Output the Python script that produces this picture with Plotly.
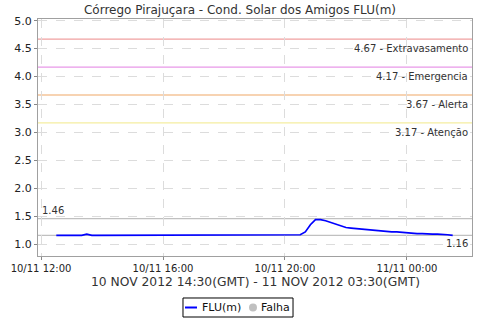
import pandas as pd
import plotly.graph_objects as go

# ---- data ----
start_time = "2012-11-10 12:30"
step = "10min"
flu_values = (
    [1.16] * 6 + [1.18] + [1.16] + [1.16] * 31 + [1.17] * 5 + [1.16] + [1.17] * 4 +
    [1.22, 1.35, 1.44, 1.44, 1.42, 1.39, 1.35, 1.32, 1.30, 1.29,
     1.28, 1.27, 1.26, 1.26, 1.25, 1.24, 1.23, 1.22, 1.22, 1.21,
     1.21, 1.20, 1.19, 1.19, 1.18, 1.18, 1.18, 1.18, 1.17, 1.16]
)
times = pd.date_range(start_time, periods=len(flu_values), freq=step)

threshold_values = [4.67, 4.17, 3.67, 3.17]
threshold_names = ["Extravasamento", "Emergencia", "Alerta", "Atenção"]
threshold_colors = ["#f0a0a0", "#e898e8", "#f5c498", "#f5eea0"]
max_value = 1.46
min_value = 1.16

series_name = "FLU(m)"
fail_name = "Falha"
title = "Córrego Pirajuçara - Cond. Solar dos Amigos FLU(m)"
x_title = "10 NOV 2012 14:30(GMT) - 11 NOV 2012 03:30(GMT)"

font = "DejaVu Sans"
line_color = "#0000ff"
fail_color = "#c0c0c0"

fig = go.Figure()
fig.add_trace(go.Scatter(x=times, y=flu_values, mode="lines", name=series_name,
                         line=dict(color=line_color, width=1.7), showlegend=False))

for v, n, c in zip(threshold_values, threshold_names, threshold_colors):
    fig.add_hline(y=v, line=dict(color=c, width=1.3), layer="below")
    fig.add_annotation(x=0.995, xref="paper", y=v, yref="y", text=f"{v:.2f} - {n}",
                       showarrow=False, xanchor="right", yanchor="top", yshift=-2,
                       font=dict(family=font, size=10, color="#333333"))

for v in [max_value, min_value]:
    fig.add_hline(y=v, line=dict(color="#c0c0c0", width=1.3), layer="below")
fig.add_annotation(x=0.005, xref="paper", y=max_value, yref="y", text=f"{max_value:.2f}",
                   showarrow=False, xanchor="left", yanchor="bottom", yshift=1,
                   font=dict(family=font, size=10, color="#333333"))
fig.add_annotation(x=0.995, xref="paper", y=min_value, yref="y", text=f"{min_value:.2f}",
                   showarrow=False, xanchor="right", yanchor="top", yshift=-1,
                   font=dict(family=font, size=10, color="#333333"))

fig.add_annotation(x=0.5, xref="paper", y=-0.11, yref="paper", text=x_title,
                   showarrow=False, xanchor="center", yanchor="middle",
                   font=dict(family=font, size=12.3, color="#333333"))

# legend box drawn below the plot
legend_y = -0.2173
fig.add_shape(type="rect", xref="paper", yref="paper",
              x0=0.3341, x1=0.5876, y0=-0.2574, y1=-0.1772,
              line=dict(color="black", width=1), fillcolor="white")
fig.add_shape(type="line", xref="paper", yref="paper",
              x0=0.3387, x1=0.3664, y0=legend_y, y1=legend_y,
              line=dict(color=line_color, width=2))
fig.add_shape(type="circle", xref="paper", yref="paper",
              x0=0.4954 - 0.0092, x1=0.4954 + 0.0092,
              y0=legend_y - 0.0169, y1=legend_y + 0.0169,
              line=dict(color=fail_color, width=0), fillcolor=fail_color)
fig.add_annotation(x=0.3779, xref="paper", y=legend_y, yref="paper", text=series_name,
                   showarrow=False, xanchor="left", yanchor="middle", xshift=-2,
                   font=dict(family=font, size=11, color="#111111"))
fig.add_annotation(x=0.5138, xref="paper", y=legend_y, yref="paper", text=fail_name,
                   showarrow=False, xanchor="left", yanchor="middle", xshift=-2,
                   font=dict(family=font, size=11, color="#111111"))

fig.update_layout(
    width=480, height=320,
    margin=dict(l=38, r=8, t=19, b=64, autoexpand=False),
    paper_bgcolor="white", plot_bgcolor="white",
    title=dict(text=title, x=0.5, xanchor="center", y=0.968, yanchor="middle",
               font=dict(family=font, size=12, color="#333333")),
    font=dict(family=font, size=11, color="#333333"),
    showlegend=False,
)
fig.update_xaxes(
    range=["2012-11-10 11:54", "2012-11-11 02:08"],
    tickformat="%d/%m %H:%M", dtick=4 * 3600 * 1000,
    tick0="2012-11-10 12:00",
    showgrid=True, gridcolor="#dcdcdc", griddash="dash", gridwidth=1,
    showline=True, linecolor="#a0a0a0", mirror=True,
    ticks="outside", ticklen=3, tickcolor="#888888",
    tickfont=dict(family=font, size=10, color="#222222"),
)
fig.update_yaxes(
    range=[0.79, 5.03], dtick=0.5, tick0=0, tickformat=".1f",
    showgrid=True, gridcolor="#dcdcdc", griddash="dash", gridwidth=1,
    showline=True, linecolor="#a0a0a0", mirror=True, zeroline=False,
    ticks="outside", ticklen=3, tickcolor="#888888",
    tickfont=dict(family=font, size=11, color="#222222"),
)

fig.write_html("out.html")
